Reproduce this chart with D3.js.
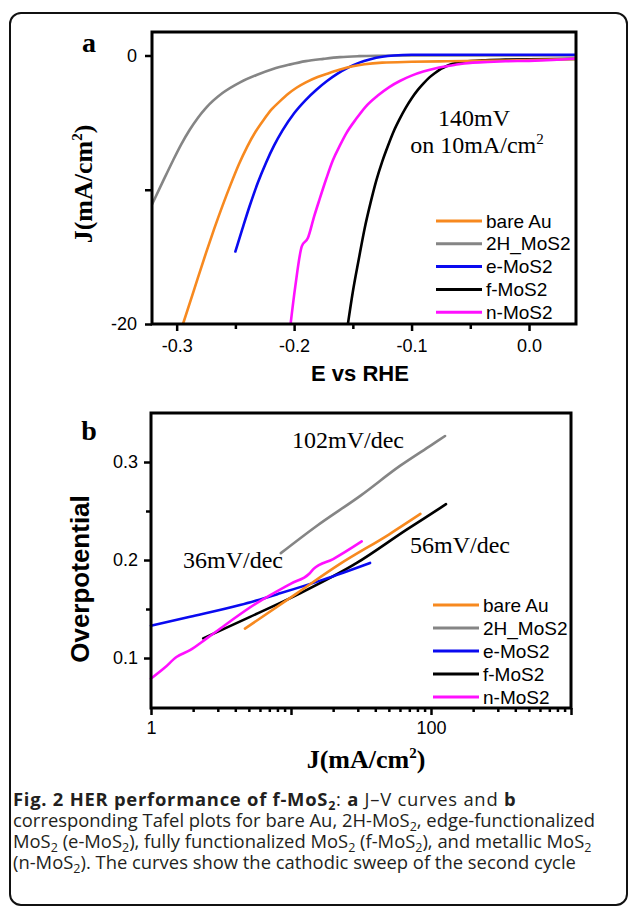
<!DOCTYPE html>
<html>
<head>
<meta charset="utf-8">
<script src="https://cdnjs.cloudflare.com/ajax/libs/d3/7.8.5/d3.min.js"></script>
<style>
  html, body { margin: 0; padding: 0; background: #fff; }
  svg { display: block; }
</style>
</head>
<body>
<svg id="fig" width="629" height="908"></svg>
<script>
const seriesNames = ['bare Au', '2H_MoS2', 'e-MoS2', 'f-MoS2', 'n-MoS2'];
const seriesColors = ['#f7891f', '#858585', '#0a0af0', '#000000', '#ff10ff'];
const drawOrder = [1, 3, 2, 0, 4];

// panel a: E (V vs RHE), J (mA/cm2)
const jvBareAu = [[-0.2946, -20], [-0.285, -17.4], [-0.275, -14.7], [-0.268, -12.9], [-0.261, -11.2],
  [-0.254, -9.6], [-0.247, -8.1], [-0.24, -6.8], [-0.233, -5.7], [-0.226, -4.8], [-0.219, -4.0],
  [-0.212, -3.4], [-0.205, -2.85], [-0.198, -2.4], [-0.19, -2.0], [-0.18, -1.6], [-0.17, -1.3],
  [-0.16, -1.02], [-0.15, -0.8], [-0.14, -0.65], [-0.125, -0.53], [-0.1, -0.47], [-0.07, -0.43],
  [-0.04, -0.4], [-0.01, -0.36], [0.02, -0.3], [0.04, -0.26]];
const jv2H = [[-0.321, -11.1], [-0.311, -9.25], [-0.303, -7.8], [-0.296, -6.6], [-0.289, -5.55],
  [-0.282, -4.65], [-0.275, -3.9], [-0.261, -2.8], [-0.246, -2.0], [-0.232, -1.45], [-0.218, -1.0],
  [-0.204, -0.68], [-0.19, -0.42], [-0.175, -0.25], [-0.161, -0.12], [-0.145, -0.05], [-0.13, -0.02],
  [-0.1, 0], [0.04, 0]];
const jvEMoS2 = [[-0.25, -14.6], [-0.244, -12.9], [-0.238, -11.25], [-0.231, -9.5], [-0.224, -8.0],
  [-0.217, -6.7], [-0.21, -5.6], [-0.2, -4.3], [-0.19, -3.3], [-0.181, -2.55], [-0.172, -1.9],
  [-0.163, -1.35], [-0.154, -0.9], [-0.145, -0.55], [-0.135, -0.28], [-0.125, -0.1], [-0.115, 0.0],
  [-0.1, 0.05], [0.04, 0.05]];
const jvFMoS2 = [[-0.1542, -20], [-0.15, -17.6], [-0.145, -15.2], [-0.14, -12.9], [-0.135, -11.0],
  [-0.13, -9.3], [-0.125, -7.9], [-0.12, -6.7], [-0.115, -5.6], [-0.11, -4.7], [-0.105, -3.9],
  [-0.1, -3.2], [-0.095, -2.6], [-0.09, -2.1], [-0.085, -1.65], [-0.08, -1.3], [-0.075, -1.0],
  [-0.07, -0.78], [-0.065, -0.62], [-0.06, -0.52], [-0.05, -0.42], [-0.04, -0.36], [-0.02, -0.31],
  [0.0, -0.28], [0.04, -0.25]];
const jvNMoS2 = [[-0.203, -20], [-0.199, -17.2], [-0.1934, -14.2], [-0.1883, -13.6], [-0.183, -12.0],
  [-0.1783, -10.7], [-0.1727, -9.2], [-0.167, -7.8], [-0.161, -6.7], [-0.1556, -5.8], [-0.147, -4.7],
  [-0.139, -3.8], [-0.129, -3.0], [-0.119, -2.35], [-0.11, -1.9], [-0.1, -1.5], [-0.09, -1.2],
  [-0.08, -0.97], [-0.07, -0.8], [-0.06, -0.65], [-0.05, -0.55], [-0.035, -0.48], [-0.02, -0.43],
  [0.0, -0.4], [0.02, -0.33], [0.04, -0.22]];
const jvSeries = [jvBareAu, jv2H, jvEMoS2, jvFMoS2, jvNMoS2];

// panel b: J (mA/cm2), overpotential (V)
const tafelBareAu = [[4.69, 0.130], [11, 0.166], [22.4, 0.196], [50, 0.226], [84, 0.247]];
const tafel2H = [[8.46, 0.207], [15, 0.234], [31.6, 0.266], [60, 0.296], [100, 0.317], [126, 0.3265]];
const tafelEMoS2 = [[1.0, 0.133], [1.9, 0.142], [4.32, 0.154], [8.35, 0.166], [17, 0.180], [36.7, 0.197]];
const tafelFMoS2 = [[2.36, 0.120], [5.1, 0.142], [11.6, 0.166], [29.5, 0.197], [67, 0.231], [116, 0.253], [128, 0.257]];
const tafelNMoS2 = [[1.0, 0.079], [1.25, 0.09], [1.52, 0.101], [1.9, 0.108], [2.5, 0.120], [5.69, 0.156],
  [10, 0.176], [13.5, 0.186], [14.5, 0.191], [20, 0.201], [32, 0.219]];
const tafelSeries = [tafelBareAu, tafel2H, tafelEMoS2, tafelFMoS2, tafelNMoS2];

const xTicksA = [-0.3, -0.2, -0.1, 0.0];
const xMinorA = [-0.25, -0.15, -0.05];
const yTicksA = [0, -10, -20];
const yTicksB = [0.1, 0.2, 0.3];
const yMinorB = [0.15, 0.25];
const xTicksB = [1, 10, 100, 1000];
const xLabelsB = [1, 100];

const captionLines = [
  '*Fig. 2 HER performance of f-MoS_2*: *a* J–V curves and *b*',
  'corresponding Tafel plots for bare Au, 2H-MoS_2, edge-functionalized',
  'MoS_2 (e-MoS_2), fully functionalized MoS_2 (f-MoS_2), and metallic MoS_2',
  '(n-MoS_2). The curves show the cathodic sweep of the second cycle'
];

const sans = 'Liberation Sans, Arial, sans-serif';
const serif = 'Liberation Serif, Times New Roman, serif';

const svg = d3.select('#fig');

svg.append('rect')
  .attr('x', 10).attr('y', 13).attr('width', 617).attr('height', 892).attr('rx', 11)
  .attr('fill', 'none').attr('stroke', '#111').attr('stroke-width', 2);

function styleAxis(g, size) {
  g.select('.domain').remove();
  g.selectAll('.tick line').attr('stroke', '#000').attr('stroke-width', 2.5);
  g.selectAll('.tick text').attr('fill', '#000')
    .style('font-family', sans).style('font-size', (size || 18) + 'px');
}

function drawLegend(g, x, y0, step) {
  seriesNames.forEach((name, i) => {
    const y = y0 + i * step;
    g.append('line').attr('x1', x).attr('x2', x + 46).attr('y1', y).attr('y2', y)
      .attr('stroke', seriesColors[i]).attr('stroke-width', 3);
    g.append('text').attr('x', x + 50).attr('y', y).attr('dy', '0.35em')
      .style('font-family', sans).style('font-size', '19px').text(name);
  });
}

// ---------- panel a ----------
const xA = d3.scaleLinear().domain([-0.321, 0.04]).range([152, 576]);
const yA = d3.scaleLinear().domain([-20, 1.75]).range([324, 32]);
const gA = svg.append('g');

gA.append('g').attr('transform', 'translate(0,324)')
  .call(d3.axisBottom(xA).tickValues(xMinorA).tickSize(5).tickFormat(''))
  .call(styleAxis);
gA.append('g').attr('transform', 'translate(0,324)')
  .call(d3.axisBottom(xA).tickValues(xTicksA).tickSize(7).tickPadding(8).tickFormat(d => d.toFixed(1)))
  .call(styleAxis);
gA.append('g').attr('transform', 'translate(152,0)')
  .call(d3.axisLeft(yA).tickValues(yTicksA).tickSize(7).tickPadding(8).tickFormat(d => d === -10 ? '' : String(d)))
  .call(styleAxis);

const clipA = svg.append('clipPath').attr('id', 'clipA');
clipA.append('rect').attr('x', 152).attr('y', 32).attr('width', 424).attr('height', 292);

const lineA = d3.line().x(d => xA(d[0])).y(d => yA(d[1])).curve(d3.curveMonotoneX);
drawOrder.forEach(i => {
  gA.append('path').datum(jvSeries[i]).attr('d', lineA)
    .attr('clip-path', 'url(#clipA)')
    .attr('fill', 'none').attr('stroke', seriesColors[i]).attr('stroke-width', 2.6)
    .attr('stroke-linejoin', 'round').attr('stroke-linecap', 'round');
});

gA.append('rect').attr('x', 152).attr('y', 32).attr('width', 424).attr('height', 292)
  .attr('fill', 'none').attr('stroke', '#000').attr('stroke-width', 3);

gA.append('text').attr('x', 474).attr('y', 126).attr('text-anchor', 'middle')
  .style('font-family', serif).style('font-size', '24px').text('140mV');
const ann = gA.append('text').attr('x', 477).attr('y', 153).attr('text-anchor', 'middle')
  .style('font-family', serif).style('font-size', '24px');
ann.append('tspan').text('on 10mA/cm');
ann.append('tspan').attr('dy', -9).style('font-size', '15px').text('2');

drawLegend(gA, 436, 221, 22.8);

gA.append('text').attr('x', 89).attr('y', 52).attr('text-anchor', 'middle')
  .style('font-family', serif).style('font-size', '28px').style('font-weight', 700).text('a');

const yLabA = gA.append('text').attr('transform', 'translate(92,184) rotate(-90)').attr('text-anchor', 'middle')
  .style('font-family', serif).style('font-size', '26px').style('font-weight', 700);
yLabA.append('tspan').text('J(mA/cm');
yLabA.append('tspan').attr('dy', -10).style('font-size', '15px').text('2');
yLabA.append('tspan').attr('dy', 10).text(')');

gA.append('text').attr('x', 360).attr('y', 381).attr('text-anchor', 'middle')
  .style('font-family', sans).style('font-size', '22px').style('font-weight', 700).text('E vs RHE');

// ---------- panel b ----------
const xB = d3.scaleLog().domain([1, 1000]).range([151, 571]);
const yB = d3.scaleLinear().domain([0.049, 0.35]).range([708, 413]);
const gB = svg.append('g');

const minorB = [];
for (let dec = 1; dec < 1000; dec *= 10) {
  for (let k = 2; k <= 9; k++) minorB.push(dec * k);
}

gB.append('g').attr('transform', 'translate(0,708)')
  .call(d3.axisBottom(xB).tickValues(minorB).tickSize(4).tickFormat(''))
  .call(styleAxis);
gB.append('g').attr('transform', 'translate(0,708)')
  .call(d3.axisBottom(xB).tickValues(xTicksB).tickSize(7).tickPadding(6)
    .tickFormat(d => xLabelsB.includes(d) ? String(d) : ''))
  .call(styleAxis);
gB.append('g').attr('transform', 'translate(151,0)')
  .call(d3.axisLeft(yB).tickValues(yMinorB).tickSize(5).tickFormat(''))
  .call(styleAxis);
gB.append('g').attr('transform', 'translate(151,0)')
  .call(d3.axisLeft(yB).tickValues(yTicksB).tickSize(7).tickPadding(6).tickFormat(d3.format('.1f')))
  .call(styleAxis);

const lineB = d3.line().x(d => xB(d[0])).y(d => yB(d[1])).curve(d3.curveMonotoneX);
drawOrder.forEach(i => {
  gB.append('path').datum(tafelSeries[i]).attr('d', lineB)
    .attr('fill', 'none').attr('stroke', seriesColors[i]).attr('stroke-width', 2.6)
    .attr('stroke-linejoin', 'round').attr('stroke-linecap', 'round');
});

gB.append('rect').attr('x', 151).attr('y', 413).attr('width', 420).attr('height', 295)
  .attr('fill', 'none').attr('stroke', '#000').attr('stroke-width', 3);

const tafelNotes = [['102mV/dec', 348, 448], ['36mV/dec', 233, 568], ['56mV/dec', 460, 553]];
tafelNotes.forEach(([t, x, y]) => {
  gB.append('text').attr('x', x).attr('y', y).attr('text-anchor', 'middle')
    .style('font-family', serif).style('font-size', '24px').text(t);
});

drawLegend(gB, 433, 605, 23);

gB.append('text').attr('x', 89).attr('y', 440).attr('text-anchor', 'middle')
  .style('font-family', serif).style('font-size', '28px').style('font-weight', 700).text('b');

gB.append('text').attr('transform', 'translate(89,579) rotate(-90)').attr('text-anchor', 'middle')
  .style('font-family', sans).style('font-size', '26px').style('font-weight', 700).text('Overpotential');

const xLabB = gB.append('text').attr('x', 366).attr('y', 768).attr('text-anchor', 'middle')
  .style('font-family', serif).style('font-size', '26px').style('font-weight', 700);
xLabB.append('tspan').text('J(mA/cm');
xLabB.append('tspan').attr('dy', -10).style('font-size', '15px').text('2');
xLabB.append('tspan').attr('dy', 10).text(')');

// ---------- caption ----------
function addRich(textSel, str) {
  let bold = false;
  let shifted = false;
  str.split('*').forEach((seg, i) => {
    if (i > 0) bold = !bold;
    seg.split(/_(\d)/).forEach((piece, j) => {
      if (!piece) return;
      const sub = j % 2 === 1;
      const ts = textSel.append('tspan').attr('font-weight', bold ? 700 : 400).text(piece);
      if (sub) ts.attr('font-size', 12.5);
      if (sub && !shifted) { ts.attr('dy', 4); shifted = true; }
      else if (!sub && shifted) { ts.attr('dy', -4); shifted = false; }
    });
  });
}

captionLines.forEach((line, i) => {
  const t = svg.append('text').attr('x', 13).attr('y', 806 + i * 21)
    .style('font-family', 'Open Sans, sans-serif').style('font-size', '18.4px')
    .style('letter-spacing', i === 0 ? '0.75px' : null)
    .attr('fill', '#231f20');
  addRich(t, line);
});
</script>
</body>
</html>
